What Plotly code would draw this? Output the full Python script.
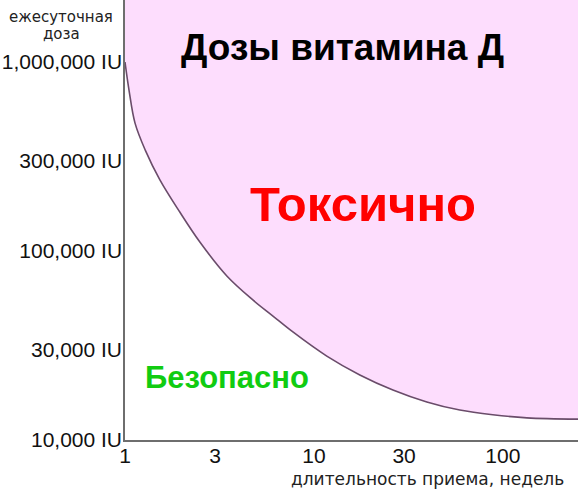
import math
import plotly.graph_objects as go

# Data (weeks of intake vs daily dose boundary, IU)
weeks = [1, 1.05, 1.13, 1.28, 1.53, 1.95, 2.49, 3.46, 4.75, 6.07, 7.74, 11.7, 17.5, 26.2, 39.6, 59.2, 88.5, 134, 250]
toxic_threshold_iu = [1000000, 711000, 475000, 342000, 238000, 160800, 111600, 73800, 55100, 45300,
                      37300, 27800, 22100, 18400, 15900, 14400, 13600, 13100, 12900]

x_tick_vals = [1, 3, 10, 30, 100]
x_tick_text = ["1", "3", "10", "30", "100"]
y_tick_vals = [10000, 30000, 100000, 300000, 1000000]
y_tick_text = ["10,000 IU", "30,000 IU", "100,000 IU", "300,000 IU", "1,000,000 IU"]

X_MAX = 250
Y_MIN = 10000
Y_TOP = 2130000

PINK = "#FDDDFD"
CURVE = "#6A4C6A"
AXIS = "#6E6E6E"

fig = go.Figure()
fig.add_trace(go.Scatter(x=weeks, y=[Y_TOP] * len(weeks), mode="lines",
                         line=dict(width=0, color=PINK), hoverinfo="skip", showlegend=False))
fig.add_trace(go.Scatter(x=weeks, y=toxic_threshold_iu, mode="lines", fill="tonexty",
                         fillcolor=PINK, line=dict(color=CURVE, width=1.6, shape="spline", smoothing=1.0),
                         showlegend=False))

fig.update_xaxes(type="log", range=[0, math.log10(X_MAX)], tickvals=x_tick_vals, ticktext=x_tick_text,
                 showgrid=False, zeroline=False, showline=True, linecolor=AXIS, linewidth=1.5,
                 ticks="", ticklabelstandoff=-4,
                 tickfont=dict(family="Liberation Sans, Arial", size=21, color="#111"))
fig.update_yaxes(type="log", range=[math.log10(Y_MIN), math.log10(Y_TOP)], tickvals=y_tick_vals,
                 ticktext=y_tick_text, showgrid=False, zeroline=False, showline=True, linecolor=AXIS,
                 linewidth=1.5, ticks="", ticklabelstandoff=-3,
                 tickfont=dict(family="Liberation Sans, Arial", size=21, color="#111"))

ann = []
ann.append(dict(text="<b>Дозы витамина Д</b>", x=0.481, y=0.893, xref="paper", yref="paper",
                showarrow=False, xanchor="center", yanchor="middle",
                font=dict(family="Liberation Sans, Arial", size=37, color="#000")))
ann.append(dict(text="<b>Токсично</b>", x=0.525, y=0.536, xref="paper", yref="paper",
                showarrow=False, xanchor="center", yanchor="middle",
                font=dict(family="Liberation Sans, Arial", size=49, color="#FF0000")))
ann.append(dict(text="<b>Безопасно</b>", x=0.225, y=0.143, xref="paper", yref="paper",
                showarrow=False, xanchor="center", yanchor="middle",
                font=dict(family="Liberation Sans, Arial", size=31, color="#11CC11")))
ann.append(dict(text="ежесуточная", x=-0.141, y=0.961, xref="paper", yref="paper",
                showarrow=False, xanchor="center", yanchor="middle",
                font=dict(family="DejaVu Sans", size=15, color="#222")))
ann.append(dict(text="доза", x=-0.141, y=0.922, xref="paper", yref="paper",
                showarrow=False, xanchor="center", yanchor="middle",
                font=dict(family="DejaVu Sans", size=15, color="#222")))
ann.append(dict(text="длительность приема, недель", x=0.667, y=-0.0886, xref="paper", yref="paper",
                showarrow=False, xanchor="center", yanchor="middle",
                font=dict(family="DejaVu Sans", size=17, color="#222")))

fig.update_layout(width=580, height=491, margin=dict(l=125, r=2, t=0, b=51),
                  paper_bgcolor="white", plot_bgcolor="white", annotations=ann)

fig.write_html("out.html", config={"displayModeBar": False},
               post_script="document.body.style.margin='0';document.body.style.overflow='hidden';")
